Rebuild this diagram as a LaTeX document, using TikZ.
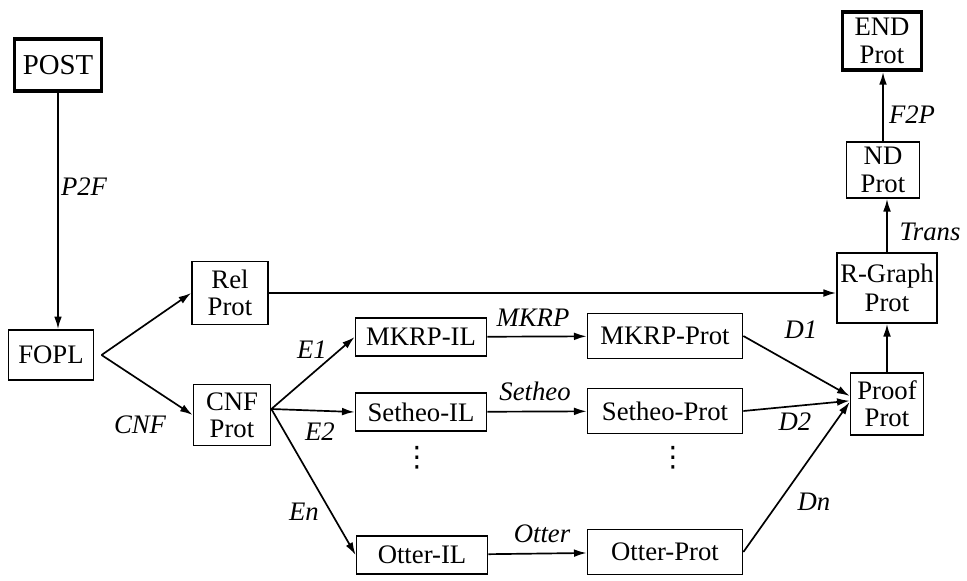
\documentclass[tikz,border=0pt]{standalone}
\usepackage{fontspec}
\setmainfont{Liberation Serif}
\newfontfamily\symfont{DejaVu Sans}
\usetikzlibrary{positioning,arrows.meta}
\tikzset{
  box/.style={draw, line width=1.2pt, align=center, inner sep=2pt,
              font=\fontsize{19}{19.5}\selectfont},
  endbox/.style={box, line width=2.8pt},
  ilbox/.style={box, minimum width=3.275cm, minimum height=0.95cm},
  prbox/.style={box, minimum width=3.875cm, minimum height=1.125cm},
  ar/.style={-{Latex[length=9pt,width=5.5pt]}, line width=1.2pt},
  lbl/.style={font=\fontsize{19}{21}\selectfont\itshape, inner sep=1pt},
  dotsn/.style={font=\symfont\fontsize{20}{21}\selectfont, inner sep=0pt},
}

\begin{document}
\begin{tikzpicture}[x=0.025cm, y=-0.025cm]
  \useasboundingbox (0,0) rectangle (967,580);
  % left column
  \node[endbox, minimum width=2.175cm, minimum height=1.3cm,
        font=\fontsize{20.5}{20}\selectfont] (post) at (58,65) {POST};
  \node[box, minimum width=2.125cm, minimum height=1.25cm] (fopl) at (51,355) {FOPL};
  \node[box, minimum width=1.9cm, minimum height=1.575cm] (rel) at (230,293) {Rel\\Prot};
  \node[box, minimum width=1.925cm, minimum height=1.525cm] (cnf) at (232,415) {CNF\\Prot};
  % prover rows
  \node[ilbox] (mil) at (421,337) {MKRP-IL};
  \node[ilbox] (sil) at (421,412) {Setheo-IL};
  \node[ilbox] (oil) at (422,555) {Otter-IL};
  \node[prbox] (mprot) at (665,336) {MKRP-Prot};
  \node[prbox] (sprot) at (665,411) {Setheo-Prot};
  \node[prbox] (oprot) at (665,552) {Otter-Prot};
  \node[dotsn] (ildots) at (417,458) {⋮};
  \node[dotsn] (prdots) at (673,458) {⋮};
  % right column
  \node[box, minimum width=1.825cm, minimum height=1.55cm] (proof) at (887,404) {Proof\\Prot};
  \node[box, minimum width=2.5cm, minimum height=1.75cm] (rgraph) at (887,288) {R-Graph\\[1pt]Prot};
  \node[box, minimum width=1.825cm, minimum height=1.4cm] (nd) at (883,170) {ND\\Prot};
  \node[endbox, minimum width=1.975cm, minimum height=1.45cm] (endp) at (882,41) {END\\Prot};

  \coordinate (fsplit) at ([xshift=0.18cm]fopl.east);
  \coordinate (csplit) at ([yshift=0.15cm]cnf.east);

  \draw[ar] (post) -- (post |- fopl.north);
  \draw[ar] (fsplit) -- (rel.west);
  \draw[ar] (fsplit) -- (cnf.west);
  \draw[ar] (rel.east) -- (rel.east -| rgraph.west);
  \draw[ar] (csplit) -- (mil.west);
  \draw[ar] (csplit) -- (sil.west);
  \draw[ar] (csplit) -- (oil.west);
  \draw[ar] (mil) -- (mprot);
  \draw[ar] (sil) -- (sprot);
  \draw[ar] (oil) -- (oprot);
  \draw[ar] (mprot.east) -- ([yshift=0.2cm]proof.west);
  \draw[ar] (sprot.east) -- ([yshift=0.08cm]proof.west);
  \draw[ar] (oprot.east) -- ([yshift=0.05cm]proof.west);
  \draw[ar] (proof) -- (proof |- rgraph.south);
  \draw[ar] (rgraph) -- (rgraph |- nd.south);
  \draw[ar] (nd) -- (nd |- endp.south);

  % labels
  \node[lbl] (lp2f) at (84,187) {P2F};
  \node[lbl] (lcnf) at (140,425) {CNF};
  \node[lbl] (le1) at (312,350) {E1};
  \node[lbl] (le2) at (320,432) {E2};
  \node[lbl] (len) at (304,512) {En};
  \node[lbl] (lmkrp) at (533,318) {MKRP};
  \node[lbl] (lseth) at (535,391) {Setheo};
  \node[lbl] (lott) at (542,534) {Otter};
  \node[lbl] (ld1) at (801,330) {D1};
  \node[lbl] (ld2) at (795,422) {D2};
  \node[lbl] (ldn) at (814,502) {Dn};
  \node[lbl] (ltrans) at (930,232) {Trans};
  \node[lbl] (lf2p) at (912,115) {F2P};
\end{tikzpicture}
\end{document}
